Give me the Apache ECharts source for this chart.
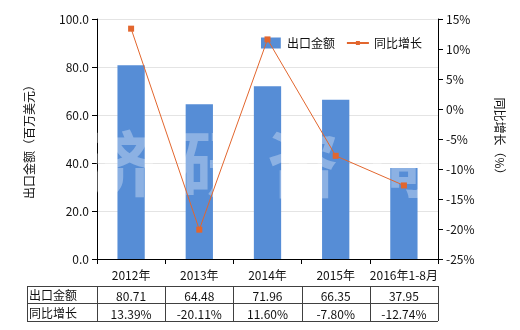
<!DOCTYPE html>
<html><head><meta charset="utf-8">
<script src="https://cdn.jsdelivr.net/npm/echarts@6/dist/echarts.min.js"></script>
<style>html,body{margin:0;padding:0;background:#fff}#c{width:520px;height:330px}</style>
</head><body><div id="c"></div>
<script>
var categories = ['2012年','2013年','2014年','2015年','2016年1-8月'];
var exportValues = [80.71, 64.48, 71.96, 66.35, 37.95];
var growthValues = [13.39, -20.11, 11.60, -7.80, -12.74];
var exportLabels = ['80.71','64.48','71.96','66.35','37.95'];
var growthLabels = ['13.39%','-20.11%','11.60%','-7.80%','-12.74%'];
var seriesNames = ['出口金额','同比增长'];

var FONT = '"Noto Sans CJK SC", sans-serif';
var gL = 97, gR = 438, gT = 19, gB = 259;
var tTop = 286, tMid = 303, tBot = 321, tLeft = 27;

var chart = echarts.init(document.getElementById('c'));
var g = [];
var border = '#404040';
function line(x1,y1,x2,y2){ g.push({type:'line',shape:{x1:x1,y1:y1,x2:x2,y2:y2},style:{stroke:border,lineWidth:1}}); }
var colW = (gR-gL)/categories.length;
line(tLeft,tTop+0.5,gR,tTop+0.5); line(tLeft,tMid+0.5,gR,tMid+0.5); line(tLeft,tBot+0.5,gR,tBot+0.5);
line(tLeft+0.5,tTop,tLeft+0.5,tBot);
for (var i=0;i<=categories.length;i++){ var x=Math.round(gL+i*colW)+0.5; line(x,tTop,x,tBot); }
function txt(s,x,y,align){ g.push({type:'text',x:x,y:y,style:{text:s,fill:'#111',font:'12px '+FONT,textAlign:align,textVerticalAlign:'middle'}}); }
txt(seriesNames[0], tLeft+2, (tTop+tMid)/2+1, 'left');
txt(seriesNames[1], tLeft+2, (tMid+tBot)/2+1, 'left');
for (var i=0;i<categories.length;i++){
  var cx = gL+(i+0.5)*colW;
  txt(exportLabels[i], cx, (tTop+tMid)/2+2, 'center');
  txt(growthLabels[i], cx, (tMid+tBot)/2+2, 'center');
}
// watermark
var wm = ['济','研','咨','询'];
var wmX = [120, 215, 303, 398];
for (var i=0;i<wm.length;i++){
  g.push({type:'text',x:wmX[i],y:164,z:5,style:{text:wm[i],fill:'rgba(255,255,255,0.32)',font:'bold 72px '+FONT,textAlign:'center',textVerticalAlign:'middle'}});
}

chart.setOption({
  animation:false,
  textStyle:{fontFamily:FONT},
  grid:{left:gL, right:520-gR, top:gT, bottom:330-gB},
  legend:{
    top:32, left:256, itemGap:12, itemWidth:22, itemHeight:11, symbolKeepAspect:true,
    textStyle:{fontSize:12, color:'#111', fontFamily:FONT},
    data:[{name:seriesNames[0], icon:'path://M0,0h18v10h-18z'},
          {name:seriesNames[1], icon:'path://M0,4h22v2h-22z M9,3h4v4h-4z'}]
  },
  xAxis:{
    type:'category', data:categories,
    axisLine:{lineStyle:{color:'#000'}},
    axisTick:{show:true, alignWithLabel:false, lineStyle:{color:'#000'}},
    axisLabel:{color:'#111', fontSize:12, margin:10, fontFamily:FONT, interval:0}
  },
  yAxis:[{
    type:'value', min:0, max:100, interval:20,
    name:'出口金额（百万美元）', nameLocation:'middle', nameGap:62, nameRotate:90,
    nameTextStyle:{fontSize:12, color:'#111', fontFamily:FONT},
    axisLine:{show:true, lineStyle:{color:'#000'}},
    axisTick:{show:true, lineStyle:{color:'#000'}},
    axisLabel:{formatter:function(v){return v.toFixed(1);}, color:'#111', fontSize:12, fontFamily:FONT},
    splitLine:{show:true, lineStyle:{color:'#e4e4e4'}}
  },{
    type:'value', min:-25, max:15, interval:5,
    name:'同比增长（%）', nameLocation:'middle', nameGap:56, nameRotate:-90,
    nameTextStyle:{fontSize:12, color:'#111', fontFamily:FONT},
    axisLine:{show:true, lineStyle:{color:'#000'}},
    axisTick:{show:true, lineStyle:{color:'#000'}},
    axisLabel:{formatter:function(v){return v+'%';}, color:'#111', fontSize:12, fontFamily:FONT},
    splitLine:{show:false}
  }],
  series:[{
    name:seriesNames[0], type:'bar', data:exportValues, barWidth:'40%', z:2,
    itemStyle:{color:'#568dd6'}
  },{
    name:seriesNames[1], type:'line', yAxisIndex:1, data:growthValues, z:20,
    symbol:'rect', symbolSize:6,
    lineStyle:{color:'#e2662e', width:1},
    itemStyle:{color:'#e2662e'}
  }],
  graphic:g
});
</script></body></html>
